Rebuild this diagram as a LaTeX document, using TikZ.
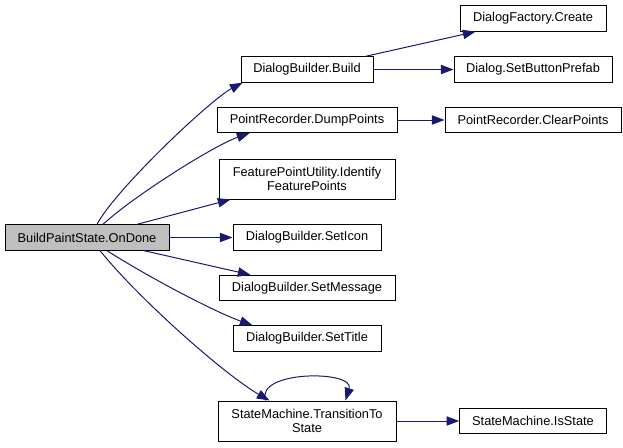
\documentclass[tikz,border=0pt]{standalone}
\usepackage{fontspec}
\setmainfont{Liberation Sans}
\usepackage{tikz}
\usetikzlibrary{arrows.meta,calc}
\definecolor{edgeblue}{RGB}{25,25,112}
\definecolor{rootgray}{RGB}{191,191,191}

\begin{document}
\begin{tikzpicture}[
  x=0.75pt, y=-0.75pt,
  font=\fontsize{9.6pt}{11pt}\selectfont,
  fn/.style={draw, line width=0.75pt, align=center, inner sep=0pt,
             minimum height=19pt, fill=white},
  root/.style={fn, fill=rootgray},
  arr/.style={edgeblue, line width=0.75pt, -{Triangle[length=9.5pt, width=7pt]}}
]
\useasboundingbox (0,0) rectangle (623,447);
% caller
\node[root, minimum width=123pt] (ondone) at (87,237.5) {BuildPaintState.OnDone};
% callees
\node[fn, minimum width=99pt] (build) at (307,69.5) {DialogBuilder.Build};
\node[fn, minimum width=109.5pt] (create) at (533,18.5) {DialogFactory.Create};
\node[fn, minimum width=118.5pt] (prefab) at (533,69.5) {Dialog.SetButtonPrefab};
\node[fn, minimum width=135pt] (dump) at (307,120) {PointRecorder.DumpPoints};
\node[fn, minimum width=132pt] (clear) at (533,120) {PointRecorder.ClearPoints};
\node[fn, minimum width=132pt, minimum height=30pt] (feature) at (307,179) {FeaturePointUtility.Identify\\FeaturePoints};
\node[fn, minimum width=111pt] (icon) at (307,237.5) {DialogBuilder.SetIcon};
\node[fn, minimum width=132pt] (message) at (307,288) {DialogBuilder.SetMessage};
\node[fn, minimum width=111pt] (title) at (307,338.5) {DialogBuilder.SetTitle};
\node[fn, minimum width=133.5pt, minimum height=30pt] (transition) at (307,421) {StateMachine.TransitionTo\\State};
\node[fn, minimum width=110pt] (isstate) at (533,421) {StateMachine.IsState};
% edges
\draw[arr] ($(ondone.north)+(10,0)$) .. controls (115,190) and (210,100) .. ($(build.south west)+(2,0)$);
\draw[arr] ($(ondone.north)+(16,0)$) .. controls (135,195) and (215,145) .. ($(dump.south west)+(33,0)$);
\draw[arr] ($(ondone.north)+(50,0)$) -- ($(feature.south west)+(12,0)$);
\draw[arr] (ondone.east) -- (icon.west);
\draw[arr] ($(ondone.south)+(57,0)$) -- ($(message.north west)+(32,0)$);
\draw[arr] ($(ondone.south)+(20,0)$) .. controls (150,278) and (215,312) .. ($(title.north west)+(20,0)$);
\draw[arr] ($(ondone.south)+(13,0)$) .. controls (140,300) and (225,375) .. ($(transition.north west)+(52,0)$);
\draw[arr] ($(transition.north west)+(48,0)$) .. controls (255,370) and (355,370) .. ($(transition.north west)+(128,0)$);
\draw[arr] ($(build.north east)+(-8,0)$) -- ($(create.south west)+(16,0)$);
\draw[arr] (build.east) -- (prefab.west);
\draw[arr] (dump.east) -- (clear.west);
\draw[arr] (transition.east) -- (isstate.west);
\end{tikzpicture}
\end{document}
